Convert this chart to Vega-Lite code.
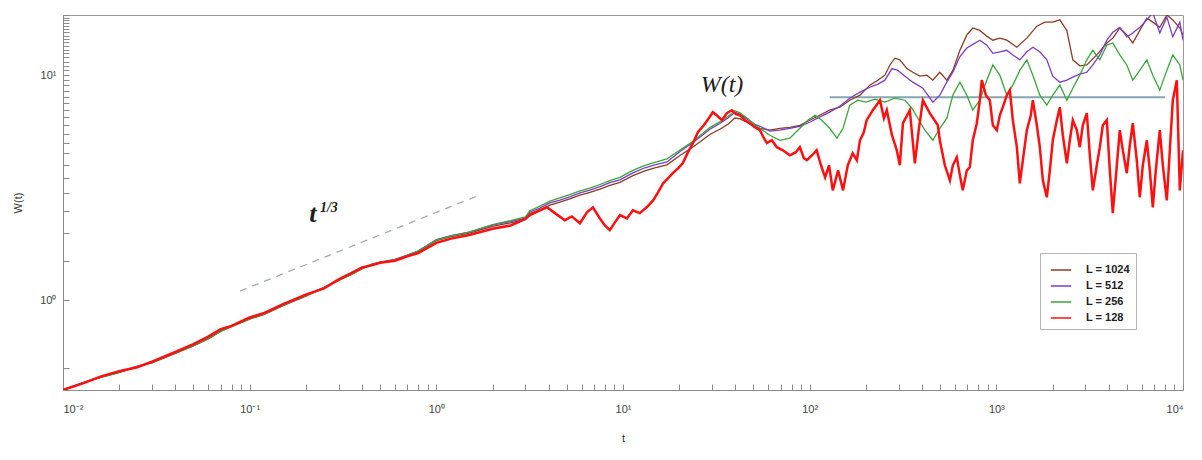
{
  "$schema": "https://vega.github.io/schema/vega-lite/v6.json",
  "width": 1120,
  "height": 375,
  "autosize": {"type": "none"},
  "padding": {"left": 63, "top": 15, "right": 19, "bottom": 70},
  "background": "white",
  "config": {
    "view": {"stroke": "#9a9a9a", "strokeWidth": 1},
    "font": "Liberation Sans",
    "axis": {
      "grid": false,
      "domainColor": "#8c8c8c",
      "tickColor": "#8c8c8c",
      "labelColor": "#444444",
      "titleColor": "#333333",
      "labelFont": "Liberation Sans",
      "titleFont": "Liberation Sans",
      "labelFontSize": 11,
      "titleFontSize": 11,
      "titleFontWeight": "normal"
    }
  },
  "datasets": {
    "runs": [
      {"t":0.01,"W":0.40,"L":"L = 1024"},{"t":0.013,"W":0.432,"L":"L = 1024"},{"t":0.016,"W":0.455,"L":"L = 1024"},{"t":0.02,"W":0.478,"L":"L = 1024"},{"t":0.025,"W":0.508,"L":"L = 1024"},{"t":0.03,"W":0.528,"L":"L = 1024"},{"t":0.04,"W":0.582,"L":"L = 1024"},{"t":0.05,"W":0.628,"L":"L = 1024"},{"t":0.06,"W":0.675,"L":"L = 1024"},{"t":0.07,"W":0.728,"L":"L = 1024"},{"t":0.08,"W":0.765,"L":"L = 1024"},{"t":0.1,"W":0.825,"L":"L = 1024"},{"t":0.12,"W":0.866,"L":"L = 1024"},{"t":0.15,"W":0.945,"L":"L = 1024"},{"t":0.2,"W":1.045,"L":"L = 1024"},{"t":0.25,"W":1.135,"L":"L = 1024"},{"t":0.3,"W":1.225,"L":"L = 1024"},{"t":0.35,"W":1.30,"L":"L = 1024"},{"t":0.4,"W":1.38,"L":"L = 1024"},{"t":0.45,"W":1.44,"L":"L = 1024"},{"t":0.5,"W":1.47,"L":"L = 1024"},{"t":0.6,"W":1.51,"L":"L = 1024"},{"t":0.7,"W":1.58,"L":"L = 1024"},{"t":0.8,"W":1.65,"L":"L = 1024"},{"t":1,"W":1.84,"L":"L = 1024"},{"t":1.2,"W":1.92,"L":"L = 1024"},{"t":1.5,"W":1.99,"L":"L = 1024"},{"t":2,"W":2.13,"L":"L = 1024"},{"t":2.5,"W":2.21,"L":"L = 1024"},{"t":3,"W":2.29,"L":"L = 1024"},
      {"t":3.17,"W":2.43,"L":"L = 1024"},{"t":3.59,"W":2.52,"L":"L = 1024"},{"t":4.06,"W":2.65,"L":"L = 1024"},{"t":4.59,"W":2.73,"L":"L = 1024"},{"t":5.19,"W":2.82,"L":"L = 1024"},{"t":5.88,"W":2.93,"L":"L = 1024"},{"t":6.65,"W":3.02,"L":"L = 1024"},{"t":7.52,"W":3.12,"L":"L = 1024"},{"t":8.5,"W":3.24,"L":"L = 1024"},{"t":9.63,"W":3.34,"L":"L = 1024"},{"t":11.3,"W":3.58,"L":"L = 1024"},{"t":13.1,"W":3.76,"L":"L = 1024"},{"t":14.8,"W":3.88,"L":"L = 1024"},{"t":17.2,"W":4.0,"L":"L = 1024"},{"t":20.2,"W":4.40,"L":"L = 1024"},{"t":23.7,"W":4.80,"L":"L = 1024"},{"t":25.8,"W":5.05,"L":"L = 1024"},{"t":29.2,"W":5.45,"L":"L = 1024"},{"t":33.0,"W":5.75,"L":"L = 1024"},{"t":36.5,"W":6.05,"L":"L = 1024"},{"t":39.8,"W":6.45,"L":"L = 1024"},{"t":42.3,"W":6.40,"L":"L = 1024"},{"t":46.7,"W":6.15,"L":"L = 1024"},{"t":50.9,"W":5.90,"L":"L = 1024"},
      {"t":54.1,"W":5.81,"L":"L = 1024"},{"t":61.2,"W":5.70,"L":"L = 1024"},{"t":69.2,"W":5.81,"L":"L = 1024"},{"t":78.3,"W":5.87,"L":"L = 1024"},{"t":88.6,"W":5.99,"L":"L = 1024"},{"t":100,"W":6.31,"L":"L = 1024"},{"t":113,"W":6.64,"L":"L = 1024"},{"t":128,"W":6.99,"L":"L = 1024"},{"t":145,"W":7.21,"L":"L = 1024"},{"t":164,"W":7.74,"L":"L = 1024"},{"t":186,"W":8.15,"L":"L = 1024"},{"t":210,"W":9.03,"L":"L = 1024"},{"t":232,"W":9.50,"L":"L = 1024"},{"t":253,"W":10.0,"L":"L = 1024"},{"t":269,"W":11.1,"L":"L = 1024"},{"t":286,"W":11.9,"L":"L = 1024"},{"t":304,"W":11.7,"L":"L = 1024"},{"t":332,"W":10.7,"L":"L = 1024"},{"t":357,"W":10.3,"L":"L = 1024"},{"t":389,"W":9.90,"L":"L = 1024"},{"t":424,"W":10.0,"L":"L = 1024"},{"t":457,"W":9.50,"L":"L = 1024"},{"t":498,"W":10.3,"L":"L = 1024"},{"t":543,"W":9.50,"L":"L = 1024"},{"t":585,"W":10.5,"L":"L = 1024"},{"t":638,"W":12.9,"L":"L = 1024"},{"t":695,"W":15.1,"L":"L = 1024"},{"t":748,"W":16.2,"L":"L = 1024"},{"t":816,"W":15.8,"L":"L = 1024"},{"t":889,"W":14.9,"L":"L = 1024"},{"t":958,"W":14.3,"L":"L = 1024"},{"t":1044,"W":14.6,"L":"L = 1024"},{"t":1138,"W":14.3,"L":"L = 1024"},{"t":1288,"W":13.3,"L":"L = 1024"},{"t":1457,"W":14.6,"L":"L = 1024"},{"t":1648,"W":16.5,"L":"L = 1024"},{"t":1819,"W":17.2,"L":"L = 1024"},{"t":2007,"W":17.2,"L":"L = 1024"},{"t":2189,"W":17.6,"L":"L = 1024"},{"t":2386,"W":15.8,"L":"L = 1024"},{"t":2569,"W":11.7,"L":"L = 1024"},{"t":2800,"W":11.0,"L":"L = 1024"},{"t":3053,"W":11.1,"L":"L = 1024"},{"t":3454,"W":12.3,"L":"L = 1024"},{"t":3908,"W":13.9,"L":"L = 1024"},{"t":4207,"W":14.6,"L":"L = 1024"},{"t":4586,"W":16.2,"L":"L = 1024"},{"t":5000,"W":15.1,"L":"L = 1024"},{"t":5384,"W":13.9,"L":"L = 1024"},{"t":5869,"W":15.8,"L":"L = 1024"},{"t":6399,"W":17.9,"L":"L = 1024"},{"t":6890,"W":17.2,"L":"L = 1024"},{"t":7511,"W":16.3,"L":"L = 1024"},{"t":8191,"W":18.5,"L":"L = 1024"},{"t":8819,"W":17.6,"L":"L = 1024"},{"t":9614,"W":16.2,"L":"L = 1024"},{"t":10000,"W":15.1,"L":"L = 1024"},

      {"t":0.01,"W":0.402,"L":"L = 512"},{"t":0.013,"W":0.434,"L":"L = 512"},{"t":0.016,"W":0.457,"L":"L = 512"},{"t":0.02,"W":0.481,"L":"L = 512"},{"t":0.025,"W":0.51,"L":"L = 512"},{"t":0.03,"W":0.531,"L":"L = 512"},{"t":0.04,"W":0.586,"L":"L = 512"},{"t":0.05,"W":0.632,"L":"L = 512"},{"t":0.06,"W":0.68,"L":"L = 512"},{"t":0.07,"W":0.733,"L":"L = 512"},{"t":0.08,"W":0.77,"L":"L = 512"},{"t":0.1,"W":0.83,"L":"L = 512"},{"t":0.12,"W":0.872,"L":"L = 512"},{"t":0.15,"W":0.952,"L":"L = 512"},{"t":0.2,"W":1.05,"L":"L = 512"},{"t":0.25,"W":1.142,"L":"L = 512"},{"t":0.3,"W":1.232,"L":"L = 512"},{"t":0.35,"W":1.31,"L":"L = 512"},{"t":0.4,"W":1.39,"L":"L = 512"},{"t":0.45,"W":1.45,"L":"L = 512"},{"t":0.5,"W":1.48,"L":"L = 512"},{"t":0.6,"W":1.52,"L":"L = 512"},{"t":0.7,"W":1.59,"L":"L = 512"},{"t":0.8,"W":1.66,"L":"L = 512"},{"t":1,"W":1.86,"L":"L = 512"},{"t":1.2,"W":1.94,"L":"L = 512"},{"t":1.5,"W":2.01,"L":"L = 512"},{"t":2,"W":2.16,"L":"L = 512"},{"t":2.5,"W":2.24,"L":"L = 512"},{"t":3,"W":2.32,"L":"L = 512"},
      {"t":3.17,"W":2.47,"L":"L = 512"},{"t":3.59,"W":2.57,"L":"L = 512"},{"t":4.06,"W":2.71,"L":"L = 512"},{"t":4.59,"W":2.79,"L":"L = 512"},{"t":5.19,"W":2.88,"L":"L = 512"},{"t":5.88,"W":3.0,"L":"L = 512"},{"t":6.65,"W":3.09,"L":"L = 512"},{"t":7.52,"W":3.2,"L":"L = 512"},{"t":8.5,"W":3.33,"L":"L = 512"},{"t":9.63,"W":3.43,"L":"L = 512"},{"t":11.3,"W":3.68,"L":"L = 512"},{"t":13.1,"W":3.88,"L":"L = 512"},{"t":14.8,"W":4.0,"L":"L = 512"},{"t":17.2,"W":4.12,"L":"L = 512"},{"t":20.2,"W":4.58,"L":"L = 512"},{"t":23.7,"W":5.02,"L":"L = 512"},{"t":25.8,"W":5.3,"L":"L = 512"},{"t":29.2,"W":5.75,"L":"L = 512"},{"t":33.0,"W":6.1,"L":"L = 512"},{"t":36.5,"W":6.45,"L":"L = 512"},{"t":39.8,"W":6.85,"L":"L = 512"},{"t":42.3,"W":6.7,"L":"L = 512"},{"t":46.7,"W":6.35,"L":"L = 512"},{"t":50.9,"W":6.05,"L":"L = 512"},
      {"t":54.1,"W":5.93,"L":"L = 512"},{"t":61.2,"W":5.64,"L":"L = 512"},{"t":69.2,"W":5.70,"L":"L = 512"},{"t":78.3,"W":5.81,"L":"L = 512"},{"t":88.6,"W":5.93,"L":"L = 512"},{"t":100,"W":6.18,"L":"L = 512"},{"t":113,"W":6.51,"L":"L = 512"},{"t":128,"W":6.85,"L":"L = 512"},{"t":145,"W":7.28,"L":"L = 512"},{"t":164,"W":7.90,"L":"L = 512"},{"t":186,"W":8.41,"L":"L = 512"},{"t":210,"W":8.84,"L":"L = 512"},{"t":232,"W":9.12,"L":"L = 512"},{"t":253,"W":9.50,"L":"L = 512"},{"t":276,"W":10.7,"L":"L = 512"},{"t":297,"W":10.5,"L":"L = 512"},{"t":324,"W":9.90,"L":"L = 512"},{"t":357,"W":9.31,"L":"L = 512"},{"t":404,"W":8.75,"L":"L = 512"},{"t":457,"W":7.59,"L":"L = 512"},{"t":498,"W":8.15,"L":"L = 512"},{"t":543,"W":9.31,"L":"L = 512"},{"t":585,"W":10.3,"L":"L = 512"},{"t":638,"W":12.1,"L":"L = 512"},{"t":695,"W":13.2,"L":"L = 512"},{"t":748,"W":13.7,"L":"L = 512"},{"t":816,"W":14.3,"L":"L = 512"},{"t":889,"W":13.6,"L":"L = 512"},{"t":958,"W":12.5,"L":"L = 512"},{"t":1044,"W":12.7,"L":"L = 512"},{"t":1138,"W":12.9,"L":"L = 512"},{"t":1226,"W":12.3,"L":"L = 512"},{"t":1336,"W":11.7,"L":"L = 512"},{"t":1457,"W":12.7,"L":"L = 512"},{"t":1569,"W":13.3,"L":"L = 512"},{"t":1710,"W":12.7,"L":"L = 512"},{"t":1864,"W":11.7,"L":"L = 512"},{"t":2007,"W":9.90,"L":"L = 512"},{"t":2189,"W":9.31,"L":"L = 512"},{"t":2386,"W":9.50,"L":"L = 512"},{"t":2569,"W":9.80,"L":"L = 512"},{"t":2800,"W":10.1,"L":"L = 512"},{"t":3053,"W":10.3,"L":"L = 512"},{"t":3288,"W":11.1,"L":"L = 512"},{"t":3585,"W":12.3,"L":"L = 512"},{"t":3908,"W":14.3,"L":"L = 512"},{"t":4207,"W":15.5,"L":"L = 512"},{"t":4586,"W":16.3,"L":"L = 512"},{"t":5000,"W":14.8,"L":"L = 512"},{"t":5384,"W":15.4,"L":"L = 512"},{"t":5869,"W":16.3,"L":"L = 512"},{"t":6399,"W":17.6,"L":"L = 512"},{"t":6890,"W":18.9,"L":"L = 512"},{"t":7511,"W":15.4,"L":"L = 512"},{"t":8191,"W":18.1,"L":"L = 512"},{"t":8819,"W":14.8,"L":"L = 512"},{"t":9614,"W":17.2,"L":"L = 512"},{"t":10000,"W":14.3,"L":"L = 512"},

      {"t":0.01,"W":0.398,"L":"L = 256"},{"t":0.013,"W":0.433,"L":"L = 256"},{"t":0.016,"W":0.456,"L":"L = 256"},{"t":0.02,"W":0.48,"L":"L = 256"},{"t":0.025,"W":0.509,"L":"L = 256"},{"t":0.03,"W":0.53,"L":"L = 256"},{"t":0.04,"W":0.585,"L":"L = 256"},{"t":0.05,"W":0.63,"L":"L = 256"},{"t":0.06,"W":0.678,"L":"L = 256"},{"t":0.07,"W":0.73,"L":"L = 256"},{"t":0.08,"W":0.768,"L":"L = 256"},{"t":0.1,"W":0.828,"L":"L = 256"},{"t":0.12,"W":0.87,"L":"L = 256"},{"t":0.15,"W":0.95,"L":"L = 256"},{"t":0.2,"W":1.05,"L":"L = 256"},{"t":0.25,"W":1.14,"L":"L = 256"},{"t":0.3,"W":1.23,"L":"L = 256"},{"t":0.35,"W":1.305,"L":"L = 256"},{"t":0.4,"W":1.385,"L":"L = 256"},{"t":0.45,"W":1.445,"L":"L = 256"},{"t":0.5,"W":1.475,"L":"L = 256"},{"t":0.6,"W":1.515,"L":"L = 256"},{"t":0.7,"W":1.585,"L":"L = 256"},{"t":0.8,"W":1.655,"L":"L = 256"},{"t":1,"W":1.85,"L":"L = 256"},{"t":1.2,"W":1.935,"L":"L = 256"},{"t":1.5,"W":2.01,"L":"L = 256"},{"t":2,"W":2.17,"L":"L = 256"},{"t":2.5,"W":2.26,"L":"L = 256"},{"t":3,"W":2.35,"L":"L = 256"},
      {"t":3.17,"W":2.5,"L":"L = 256"},{"t":3.59,"W":2.62,"L":"L = 256"},{"t":4.06,"W":2.76,"L":"L = 256"},{"t":4.59,"W":2.85,"L":"L = 256"},{"t":5.19,"W":2.95,"L":"L = 256"},{"t":5.88,"W":3.06,"L":"L = 256"},{"t":6.65,"W":3.15,"L":"L = 256"},{"t":7.52,"W":3.27,"L":"L = 256"},{"t":8.5,"W":3.40,"L":"L = 256"},{"t":9.63,"W":3.52,"L":"L = 256"},{"t":11.3,"W":3.78,"L":"L = 256"},{"t":13.1,"W":3.98,"L":"L = 256"},{"t":14.8,"W":4.10,"L":"L = 256"},{"t":17.2,"W":4.25,"L":"L = 256"},{"t":20.2,"W":4.65,"L":"L = 256"},{"t":23.7,"W":5.08,"L":"L = 256"},{"t":25.8,"W":5.38,"L":"L = 256"},{"t":29.2,"W":5.85,"L":"L = 256"},{"t":33.0,"W":6.2,"L":"L = 256"},{"t":36.5,"W":6.55,"L":"L = 256"},{"t":39.8,"W":6.95,"L":"L = 256"},{"t":42.3,"W":6.8,"L":"L = 256"},{"t":46.7,"W":6.4,"L":"L = 256"},{"t":50.9,"W":6.0,"L":"L = 256"},
      {"t":54.1,"W":5.81,"L":"L = 256"},{"t":61.2,"W":5.41,"L":"L = 256"},{"t":69.2,"W":5.14,"L":"L = 256"},{"t":78.3,"W":5.25,"L":"L = 256"},{"t":88.6,"W":5.81,"L":"L = 256"},{"t":97.8,"W":6.31,"L":"L = 256"},{"t":107,"W":6.64,"L":"L = 256"},{"t":116,"W":6.31,"L":"L = 256"},{"t":128,"W":5.81,"L":"L = 256"},{"t":140,"W":5.25,"L":"L = 256"},{"t":151,"W":5.81,"L":"L = 256"},{"t":164,"W":7.36,"L":"L = 256"},{"t":181,"W":7.74,"L":"L = 256"},{"t":200,"W":7.59,"L":"L = 256"},{"t":224,"W":7.82,"L":"L = 256"},{"t":253,"W":7.59,"L":"L = 256"},{"t":286,"W":7.90,"L":"L = 256"},{"t":324,"W":7.74,"L":"L = 256"},{"t":353,"W":7.13,"L":"L = 256"},{"t":380,"W":6.44,"L":"L = 256"},{"t":414,"W":5.70,"L":"L = 256"},{"t":457,"W":5.14,"L":"L = 256"},{"t":498,"W":5.81,"L":"L = 256"},{"t":543,"W":6.44,"L":"L = 256"},{"t":585,"W":8.15,"L":"L = 256"},{"t":638,"W":9.31,"L":"L = 256"},{"t":695,"W":8.15,"L":"L = 256"},{"t":748,"W":6.99,"L":"L = 256"},{"t":816,"W":7.74,"L":"L = 256"},{"t":889,"W":9.50,"L":"L = 256"},{"t":958,"W":11.1,"L":"L = 256"},{"t":1044,"W":10.0,"L":"L = 256"},{"t":1138,"W":8.15,"L":"L = 256"},{"t":1226,"W":9.03,"L":"L = 256"},{"t":1336,"W":10.5,"L":"L = 256"},{"t":1457,"W":11.7,"L":"L = 256"},{"t":1569,"W":10.0,"L":"L = 256"},{"t":1710,"W":8.15,"L":"L = 256"},{"t":1864,"W":7.36,"L":"L = 256"},{"t":2007,"W":8.15,"L":"L = 256"},{"t":2189,"W":9.03,"L":"L = 256"},{"t":2386,"W":7.74,"L":"L = 256"},{"t":2569,"W":8.75,"L":"L = 256"},{"t":2800,"W":10.0,"L":"L = 256"},{"t":3053,"W":11.7,"L":"L = 256"},{"t":3288,"W":12.9,"L":"L = 256"},{"t":3585,"W":11.7,"L":"L = 256"},{"t":3908,"W":13.6,"L":"L = 256"},{"t":4207,"W":13.9,"L":"L = 256"},{"t":4586,"W":12.3,"L":"L = 256"},{"t":5000,"W":11.1,"L":"L = 256"},{"t":5384,"W":9.50,"L":"L = 256"},{"t":5869,"W":10.5,"L":"L = 256"},{"t":6399,"W":11.7,"L":"L = 256"},{"t":6890,"W":10.0,"L":"L = 256"},{"t":7511,"W":8.58,"L":"L = 256"},{"t":8191,"W":10.5,"L":"L = 256"},{"t":8819,"W":12.3,"L":"L = 256"},{"t":9614,"W":11.1,"L":"L = 256"},{"t":10000,"W":9.50,"L":"L = 256"},

      {"t":0.01,"W":0.40,"L":"L = 128"},{"t":0.013,"W":0.43,"L":"L = 128"},{"t":0.016,"W":0.46,"L":"L = 128"},{"t":0.02,"W":0.485,"L":"L = 128"},{"t":0.025,"W":0.505,"L":"L = 128"},{"t":0.03,"W":0.535,"L":"L = 128"},{"t":0.04,"W":0.59,"L":"L = 128"},{"t":0.05,"W":0.64,"L":"L = 128"},{"t":0.06,"W":0.69,"L":"L = 128"},{"t":0.07,"W":0.745,"L":"L = 128"},{"t":0.08,"W":0.77,"L":"L = 128"},{"t":0.1,"W":0.84,"L":"L = 128"},{"t":0.12,"W":0.88,"L":"L = 128"},{"t":0.15,"W":0.96,"L":"L = 128"},{"t":0.2,"W":1.06,"L":"L = 128"},{"t":0.25,"W":1.13,"L":"L = 128"},{"t":0.3,"W":1.24,"L":"L = 128"},{"t":0.35,"W":1.32,"L":"L = 128"},{"t":0.4,"W":1.40,"L":"L = 128"},{"t":0.45,"W":1.43,"L":"L = 128"},{"t":0.5,"W":1.47,"L":"L = 128"},{"t":0.6,"W":1.50,"L":"L = 128"},{"t":0.7,"W":1.57,"L":"L = 128"},{"t":0.8,"W":1.62,"L":"L = 128"},{"t":1,"W":1.80,"L":"L = 128"},{"t":1.2,"W":1.88,"L":"L = 128"},{"t":1.5,"W":1.95,"L":"L = 128"},{"t":2,"W":2.08,"L":"L = 128"},{"t":2.5,"W":2.15,"L":"L = 128"},{"t":3,"W":2.30,"L":"L = 128"},
      {"t":3.17,"W":2.39,"L":"L = 128"},{"t":3.59,"W":2.51,"L":"L = 128"},{"t":3.91,"W":2.59,"L":"L = 128"},{"t":4.32,"W":2.44,"L":"L = 128"},{"t":4.88,"W":2.27,"L":"L = 128"},{"t":5.32,"W":2.36,"L":"L = 128"},{"t":5.88,"W":2.20,"L":"L = 128"},{"t":6.41,"W":2.46,"L":"L = 128"},{"t":6.90,"W":2.59,"L":"L = 128"},{"t":7.52,"W":2.31,"L":"L = 128"},{"t":8.00,"W":2.15,"L":"L = 128"},{"t":8.50,"W":2.05,"L":"L = 128"},{"t":9.05,"W":2.22,"L":"L = 128"},{"t":9.63,"W":2.39,"L":"L = 128"},{"t":10.5,"W":2.31,"L":"L = 128"},{"t":11.3,"W":2.51,"L":"L = 128"},{"t":12.3,"W":2.44,"L":"L = 128"},{"t":13.4,"W":2.59,"L":"L = 128"},{"t":14.5,"W":2.78,"L":"L = 128"},{"t":15.4,"W":3.02,"L":"L = 128"},{"t":16.4,"W":3.31,"L":"L = 128"},{"t":17.4,"W":3.48,"L":"L = 128"},{"t":18.5,"W":3.67,"L":"L = 128"},{"t":19.7,"W":3.86,"L":"L = 128"},{"t":20.9,"W":4.06,"L":"L = 128"},{"t":22.3,"W":4.55,"L":"L = 128"},{"t":23.7,"W":4.99,"L":"L = 128"},{"t":25.2,"W":5.58,"L":"L = 128"},{"t":27.1,"W":5.99,"L":"L = 128"},{"t":28.8,"W":6.44,"L":"L = 128"},{"t":30.3,"W":6.85,"L":"L = 128"},{"t":32.2,"W":6.57,"L":"L = 128"},{"t":33.9,"W":6.31,"L":"L = 128"},{"t":36.0,"W":6.78,"L":"L = 128"},{"t":38.3,"W":6.99,"L":"L = 128"},{"t":40.3,"W":6.71,"L":"L = 128"},{"t":42.3,"W":6.64,"L":"L = 128"},{"t":45.0,"W":6.31,"L":"L = 128"},{"t":47.8,"W":6.12,"L":"L = 128"},{"t":50.9,"W":5.87,"L":"L = 128"},{"t":54.1,"W":5.70,"L":"L = 128"},{"t":56.9,"W":5.25,"L":"L = 128"},{"t":59.0,"W":4.99,"L":"L = 128"},{"t":62.7,"W":5.14,"L":"L = 128"},{"t":66.7,"W":4.79,"L":"L = 128"},{"t":71.9,"W":4.64,"L":"L = 128"},{"t":78.3,"W":4.41,"L":"L = 128"},{"t":84.4,"W":4.55,"L":"L = 128"},
      {"t":88.6,"W":4.79,"L":"L = 128"},{"t":93.1,"W":4.28,"L":"L = 128"},{"t":96.6,"W":4.19,"L":"L = 128"},{"t":103,"W":4.41,"L":"L = 128"},{"t":109,"W":4.64,"L":"L = 128"},{"t":115,"W":3.98,"L":"L = 128"},{"t":121,"W":3.52,"L":"L = 128"},{"t":127,"W":3.98,"L":"L = 128"},{"t":133,"W":3.08,"L":"L = 128"},{"t":142,"W":3.78,"L":"L = 128"},{"t":151,"W":3.08,"L":"L = 128"},{"t":160,"W":3.98,"L":"L = 128"},{"t":170,"W":4.50,"L":"L = 128"},{"t":179,"W":4.19,"L":"L = 128"},{"t":186,"W":5.14,"L":"L = 128"},{"t":195,"W":5.58,"L":"L = 128"},{"t":202,"W":6.31,"L":"L = 128"},{"t":218,"W":6.99,"L":"L = 128"},{"t":238,"W":7.74,"L":"L = 128"},{"t":250,"W":6.44,"L":"L = 128"},{"t":259,"W":6.99,"L":"L = 128"},{"t":276,"W":5.41,"L":"L = 128"},{"t":293,"W":4.64,"L":"L = 128"},{"t":304,"W":3.98,"L":"L = 128"},{"t":316,"W":6.12,"L":"L = 128"},{"t":344,"W":6.99,"L":"L = 128"},{"t":366,"W":4.06,"L":"L = 128"},{"t":384,"W":5.70,"L":"L = 128"},{"t":404,"W":7.74,"L":"L = 128"},{"t":440,"W":6.78,"L":"L = 128"},{"t":486,"W":5.99,"L":"L = 128"},{"t":498,"W":5.14,"L":"L = 128"},{"t":530,"W":3.98,"L":"L = 128"},{"t":564,"W":3.41,"L":"L = 128"},{"t":585,"W":3.98,"L":"L = 128"},{"t":614,"W":4.32,"L":"L = 128"},{"t":638,"W":3.59,"L":"L = 128"},{"t":661,"W":3.08,"L":"L = 128"},{"t":695,"W":3.78,"L":"L = 128"},{"t":721,"W":3.90,"L":"L = 128"},{"t":748,"W":5.14,"L":"L = 128"},{"t":786,"W":6.12,"L":"L = 128"},{"t":816,"W":7.74,"L":"L = 128"},{"t":836,"W":9.50,"L":"L = 128"},{"t":879,"W":8.15,"L":"L = 128"},{"t":923,"W":7.74,"L":"L = 128"},{"t":958,"W":5.99,"L":"L = 128"},{"t":1006,"W":5.70,"L":"L = 128"},{"t":1044,"W":6.64,"L":"L = 128"},{"t":1083,"W":7.21,"L":"L = 128"},{"t":1138,"W":8.15,"L":"L = 128"},{"t":1181,"W":8.58,"L":"L = 128"},{"t":1226,"W":6.31,"L":"L = 128"},{"t":1288,"W":4.79,"L":"L = 128"},{"t":1336,"W":3.31,"L":"L = 128"},{"t":1387,"W":4.19,"L":"L = 128"},{"t":1457,"W":5.70,"L":"L = 128"},{"t":1530,"W":6.64,"L":"L = 128"},{"t":1569,"W":7.74,"L":"L = 128"},{"t":1648,"W":5.99,"L":"L = 128"},{"t":1710,"W":4.79,"L":"L = 128"},{"t":1775,"W":3.41,"L":"L = 128"},{"t":1864,"W":2.87,"L":"L = 128"},{"t":1935,"W":3.78,"L":"L = 128"},{"t":2007,"W":5.14,"L":"L = 128"},{"t":2109,"W":6.31,"L":"L = 128"},{"t":2189,"W":7.21,"L":"L = 128"},{"t":2271,"W":5.41,"L":"L = 128"},{"t":2386,"W":4.06,"L":"L = 128"},{"t":2476,"W":5.14,"L":"L = 128"},{"t":2569,"W":6.31,"L":"L = 128"},{"t":2698,"W":5.70,"L":"L = 128"},{"t":2800,"W":4.79,"L":"L = 128"},{"t":2906,"W":5.99,"L":"L = 128"},{"t":3053,"W":6.78,"L":"L = 128"},{"t":3169,"W":4.41,"L":"L = 128"},{"t":3288,"W":3.08,"L":"L = 128"},{"t":3454,"W":3.98,"L":"L = 128"},{"t":3585,"W":4.79,"L":"L = 128"},{"t":3719,"W":5.99,"L":"L = 128"},{"t":3908,"W":6.31,"L":"L = 128"},{"t":4055,"W":3.78,"L":"L = 128"},{"t":4207,"W":2.44,"L":"L = 128"},{"t":4420,"W":3.98,"L":"L = 128"},{"t":4586,"W":5.70,"L":"L = 128"},{"t":4760,"W":4.64,"L":"L = 128"},{"t":5000,"W":3.67,"L":"L = 128"},{"t":5188,"W":4.89,"L":"L = 128"},{"t":5384,"W":6.12,"L":"L = 128"},{"t":5656,"W":4.19,"L":"L = 128"},{"t":5869,"W":2.87,"L":"L = 128"},{"t":6091,"W":3.98,"L":"L = 128"},{"t":6399,"W":5.14,"L":"L = 128"},{"t":6641,"W":3.78,"L":"L = 128"},{"t":6890,"W":2.59,"L":"L = 128"},{"t":7150,"W":3.78,"L":"L = 128"},{"t":7511,"W":5.70,"L":"L = 128"},{"t":7796,"W":3.98,"L":"L = 128"},{"t":8191,"W":2.78,"L":"L = 128"},{"t":8499,"W":4.64,"L":"L = 128"},{"t":8819,"W":7.74,"L":"L = 128"},{"t":9265,"W":9.50,"L":"L = 128"},{"t":9614,"W":3.08,"L":"L = 128"},{"t":10000,"W":4.64,"L":"L = 128"}
    ],
    "slope": [
      {"t": 0.0888, "W": 1.10},
      {"t": 1.71, "W": 2.94}
    ],
    "plateau": [
      {"t": 128, "W": 7.98},
      {"t": 8000, "W": 7.98}
    ],
    "wlabel": [{"t": 33.9, "W": 8.4, "label": "W(t)"}],
    "tlabel": [{"t": 0.218, "W": 2.22, "label": "t"}],
    "plabel": [{"t": 0.238, "W": 2.46, "label": "1/3"}]
  },
  "layer": [
    {
      "data": {"name": "slope"},
      "mark": {"type": "line", "stroke": "#a3adb0", "strokeWidth": 1.3, "strokeDash": [7, 6]},
      "encoding": {
        "x": {
          "field": "t", "type": "quantitative",
          "scale": {"type": "log", "domain": [0.01, 10000], "nice": false},
          "axis": {
            "title": "t",
            "tickCount": 60,
            "labelOverlap": false,
            "tickSize": -6,
            "labelPadding": 19,
            "titlePadding": 18,
            "labelExpr": "abs(log(datum.value)/LN10 - round(log(datum.value)/LN10)) > 0.001 ? '' : ['10⁻²','10⁻¹','10⁰','10¹','10²','10³','10⁴'][round(log(datum.value)/LN10) + 2]"
          }
        },
        "y": {
          "field": "W", "type": "quantitative",
          "scale": {"type": "log", "domain": [0.4, 18.5], "nice": false},
          "axis": {
            "title": "W(t)",
            "tickCount": 40,
            "labelOverlap": false,
            "tickSize": -6,
            "labelPadding": 13,
            "titlePadding": 16,
            "labelExpr": "abs(log(datum.value)/LN10 - round(log(datum.value)/LN10)) > 0.001 ? '' : ['10⁻²','10⁻¹','10⁰','10¹','10²','10³','10⁴'][round(log(datum.value)/LN10) + 2]"
          }
        }
      }
    },
    {
      "data": {"name": "plateau"},
      "mark": {"type": "line", "stroke": "#86a6b2", "strokeWidth": 2},
      "encoding": {
        "x": {"field": "t", "type": "quantitative"},
        "y": {"field": "W", "type": "quantitative"}
      }
    },
    {
      "data": {"name": "runs"},
      "transform": [{"filter": "datum.L !== 'L = 128'"}],
      "mark": {"type": "line", "strokeWidth": 1.3, "clip": true},
      "encoding": {
        "x": {"field": "t", "type": "quantitative"},
        "y": {"field": "W", "type": "quantitative"},
        "color": {
          "field": "L", "type": "nominal",
          "scale": {
            "domain": ["L = 1024", "L = 512", "L = 256", "L = 128"],
            "range": ["#8c3b22", "#7d3cc8", "#3aa53a", "#ff1010"]
          },
          "legend": {
            "title": null,
            "orient": "none",
            "legendX": 977,
            "legendY": 238,
            "symbolType": "stroke",
            "symbolSize": 420,
            "symbolStrokeWidth": 1.5,
            "labelFontSize": 11,
            "labelFontWeight": "bold",
            "labelColor": "#222222",
            "labelFont": "Liberation Sans",
            "strokeColor": "#b5b5b5",
            "fillColor": "white",
            "padding": 6,
            "rowPadding": 0,
            "labelOffset": 14,
            "symbolOffset": 4
          }
        }
      }
    },
    {
      "data": {"name": "runs"},
      "transform": [{"filter": "datum.L === 'L = 128'"}],
      "mark": {"type": "line", "strokeWidth": 2.5, "clip": true},
      "encoding": {
        "x": {"field": "t", "type": "quantitative"},
        "y": {"field": "W", "type": "quantitative"},
        "color": {"field": "L", "type": "nominal"}
      }
    },
    {
      "data": {"name": "wlabel"},
      "mark": {"type": "text", "font": "Liberation Serif", "fontStyle": "italic", "fontSize": 24, "baseline": "alphabetic", "align": "center", "color": "#1c1c1c"},
      "encoding": {
        "x": {"field": "t", "type": "quantitative"},
        "y": {"field": "W", "type": "quantitative"},
        "text": {"field": "label"}
      }
    },
    {
      "data": {"name": "tlabel"},
      "mark": {"type": "text", "font": "Liberation Serif", "fontStyle": "italic", "fontWeight": "bold", "fontSize": 26, "baseline": "alphabetic", "align": "center", "color": "#1c1c1c"},
      "encoding": {
        "x": {"field": "t", "type": "quantitative"},
        "y": {"field": "W", "type": "quantitative"},
        "text": {"field": "label"}
      }
    },
    {
      "data": {"name": "plabel"},
      "mark": {"type": "text", "font": "Liberation Serif", "fontStyle": "italic", "fontWeight": "bold", "fontSize": 14, "baseline": "alphabetic", "align": "left", "color": "#1c1c1c"},
      "encoding": {
        "x": {"field": "t", "type": "quantitative"},
        "y": {"field": "W", "type": "quantitative"},
        "text": {"field": "label"}
      }
    }
  ]
}
